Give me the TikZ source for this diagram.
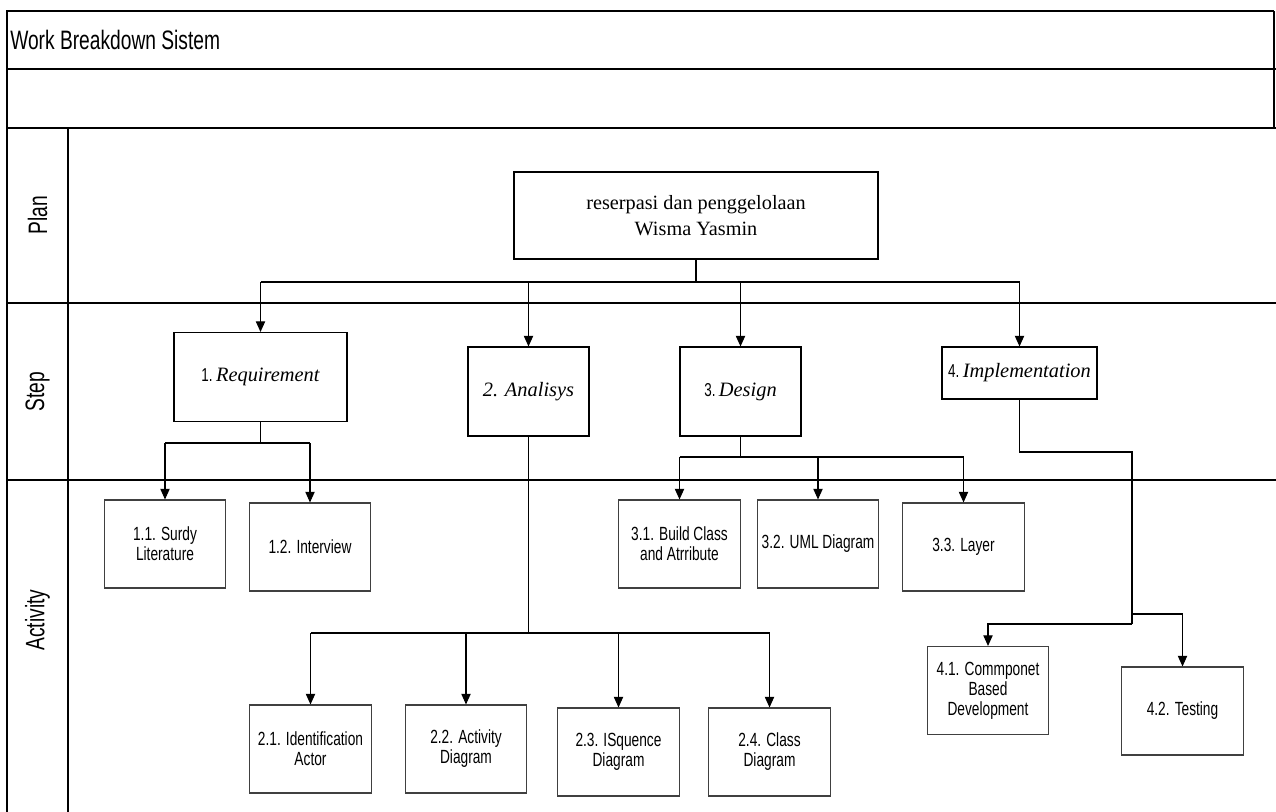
\documentclass[tikz,border=0pt]{standalone}
\usepackage{fontspec}
\setmainfont{Liberation Serif}
\setsansfont[FakeStretch=0.72]{Liberation Sans}
\usetikzlibrary{arrows.meta}
\usetikzlibrary{calc}

\newcommand{\stepnum}[1]{{\sffamily\upshape\fontsize{14}{16}\selectfont #1.}\,}

\tikzset{
  lane/.style={line width=0.9pt},
  link/.style={draw, line width=0.8pt},
  arr/.style={link, -{Triangle[width=7pt,length=8pt]}},
  plan box/.style={draw, line width=0.8pt, inner sep=0pt, minimum width=273pt, minimum height=65.25pt, align=center, font=\fontsize{15.2}{19.5}\selectfont},
  step box/.style={draw, line width=0.8pt, inner sep=0pt, minimum height=66.75pt, align=center, font=\fontsize{15.3}{18}\selectfont\itshape},
  act box/.style={draw=black!75, line width=0.8pt, inner sep=0pt, minimum width=91pt, minimum height=66pt, align=center, font=\sffamily\fontsize{14.3}{15}\selectfont},
  lane label/.style={rotate=90, inner sep=0pt, font=\sffamily\fontsize{20}{22}\selectfont},
}

\begin{document}
\begin{tikzpicture}[x=0.75pt, y=-0.75pt]
  \useasboundingbox (0,0) rectangle (1276,812);

  % lanes
  \draw[lane] (1274,11) -- (7,11) -- (7,812);
  \draw[lane] (1274,11) -- (1274,128);
  \foreach \y in {69,128,303,480} {
    \draw[lane] (7,\y) -- (1276,\y);
  }
  \draw[lane] (68,128) -- (68,812);

  \node[anchor=west, inner sep=0pt, font=\sffamily\fontsize{20}{22}\selectfont] (title) at (10,40) {Work Breakdown Sistem};
  \node[lane label] (plan) at (37.5,215.5) {Plan};
  \node[lane label] (step) at (37.5,391.5) {Step};
  \node[lane label] (activity) at (37.5,620) {Activity};

  % plan
  \node[plan box] (root) at (696,215.5) {reserpasi dan penggelolaan\\Wisma Yasmin};

  % steps
  \node[step box, minimum width=129.75pt] (req) at (260.5,377) {\stepnum{1}Requirement};
  \node[step box, minimum width=90.75pt] (ana) at (528.5,391.5) {2. Analisys};
  \node[step box, minimum width=90.75pt] (des) at (740.5,391.5) {\stepnum{3}Design};
  \node[step box, minimum width=116.25pt, minimum height=39pt] (imp) at (1019.5,373) {\stepnum{4}Implementation};

  % activities
  \node[act box] (a11) at (165,544) {1.1. Surdy\\Literature};
  \node[act box] (a12) at (310,547) {1.2. Interview};
  \node[act box] (a21) at (310.5,749) {2.1. Identification\\Actor};
  \node[act box] (a22) at (466,749) {2.2. Activity\\Diagram};
  \node[act box] (a23) at (618.5,752) {2.3. ISquence\\Diagram};
  \node[act box] (a24) at (769.5,752) {2.4. Class\\Diagram};
  \node[act box] (a31) at (679.5,544) {3.1. Build Class\\and Atrribute};
  \node[act box] (a32) at (818,544) {3.2. UML Diagram};
  \node[act box] (a33) at (963.5,547) {3.3. Layer};
  \node[act box] (a41) at (988,690.5) {4.1. Commponet\\Based\\Development};
  \node[act box] (a42) at (1182.5,711) {4.2. Testing};

  % connectors
  \coordinate (bus) at (696,282);
  \draw[link] (root.south) -- (bus);
  \draw[link] (req.north |- bus) -- (imp.north |- bus);
  \foreach \n in {req,ana,des,imp} {
    \draw[arr] (\n.north |- bus) -- (\n.north);
  }

  \coordinate (reqbus) at (260.5,443);
  \draw[link] (req.south) -- (reqbus);
  \draw[link] (a11.north |- reqbus) -- (a12.north |- reqbus);
  \foreach \n in {a11,a12} {
    \draw[arr] (\n.north |- reqbus) -- (\n.north);
  }

  \coordinate (anabus) at (528.5,633);
  \draw[link] (ana.south) -- (anabus);
  \draw[link] (a21.north |- anabus) -- (a24.north |- anabus);
  \foreach \n in {a21,a22,a23,a24} {
    \draw[arr] (\n.north |- anabus) -- (\n.north);
  }

  \coordinate (desbus) at (740.5,457);
  \draw[link] (des.south) -- (desbus);
  \draw[link] (a31.north |- desbus) -- (a33.north |- desbus);
  \foreach \n in {a31,a32,a33} {
    \draw[arr] (\n.north |- desbus) -- (\n.north);
  }

  \coordinate (impbus) at (1132,452);
  \coordinate (impmid) at (1132,614);
  \coordinate (impend) at (1132,624);
  \draw[link] (imp.south) |- (impbus) -- (impend);
  \draw[arr] (impend) -| (a41.north);
  \draw[arr] (impmid) -| (a42.north);
\end{tikzpicture}
\end{document}
